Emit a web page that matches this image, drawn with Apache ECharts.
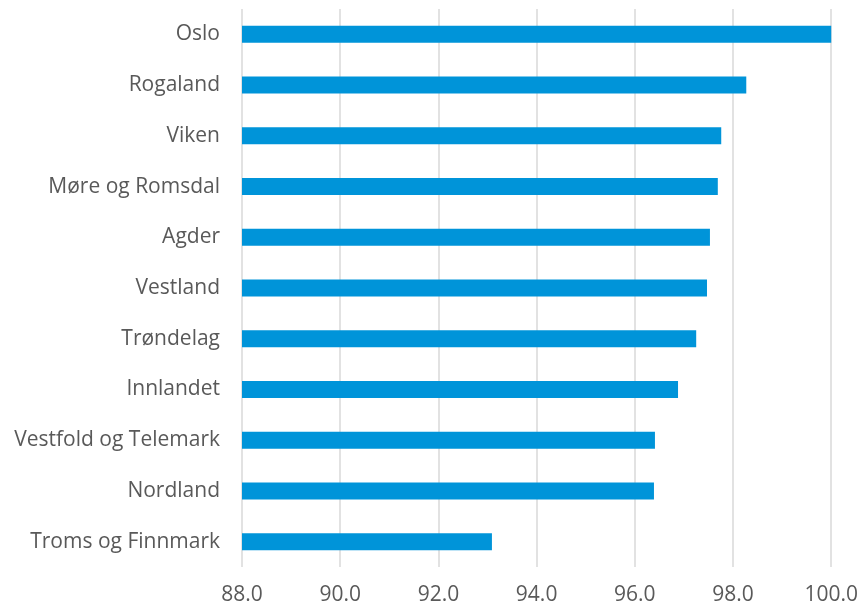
<!DOCTYPE html>
<html>
<head>
<meta charset="utf-8">
<script src="https://cdn.jsdelivr.net/npm/echarts@6/dist/echarts.min.js"></script>
<style>
    body { margin: 0; background: #fff; }
    #main { width: 861px; height: 611px; }
</style>
</head>
<body>
<div id="main"></div>
<script>
    // top to bottom as drawn
    var regions = ['Oslo', 'Rogaland', 'Viken', 'Møre og Romsdal', 'Agder', 'Vestland',
        'Trøndelag', 'Innlandet', 'Vestfold og Telemark', 'Nordland', 'Troms og Finnmark'];
    var values = [100.0, 98.27, 97.76, 97.69, 97.53, 97.47, 97.25, 96.88, 96.41, 96.39, 93.09];

    var chart = echarts.init(document.getElementById('main'));
    chart.setOption({
        animation: false,
        textStyle: { fontFamily: 'Open Sans' },
        grid: { left: 242, right: 29, top: 9, bottom: 44, containLabel: false },
        xAxis: {
            type: 'value',
            min: 88,
            max: 100,
            interval: 2,
            axisLine: { show: false },
            axisTick: { show: false },
            splitLine: { lineStyle: { color: '#d9d9d9', width: 1.5 } },
            axisLabel: {
                color: '#595959',
                fontSize: 21,
                margin: 18,
                formatter: function (v) { return v.toFixed(1); }
            }
        },
        yAxis: {
            type: 'category',
            inverse: true,
            data: regions,
            axisLine: { show: false },
            axisTick: { show: false },
            axisLabel: { color: '#595959', fontSize: 21, margin: 22 }
        },
        series: [{
            type: 'bar',
            data: values,
            barWidth: 17,
            itemStyle: { color: '#0094d9' }
        }]
    });
</script>
</body>
</html>
